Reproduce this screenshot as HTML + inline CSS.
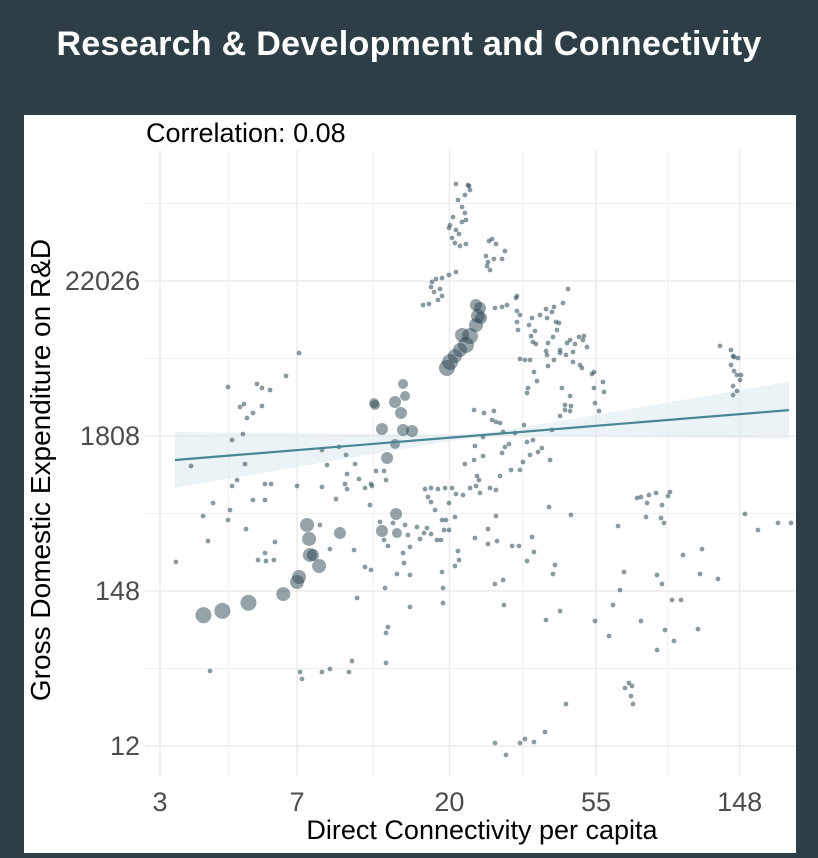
<!DOCTYPE html>
<html><head><meta charset="utf-8"><style>
html,body{margin:0;padding:0;background:#2d3e47;width:818px;height:858px;overflow:hidden}
#title{position:absolute;left:0;top:25px;width:818px;text-align:center;color:#fff;font:bold 34px "Liberation Sans",sans-serif;letter-spacing:0.3px;z-index:2}
svg{position:absolute;left:0;top:0}
</style></head><body>
<div id="title">Research &amp; Development and Connectivity</div>
<svg id="chart" width="818" height="858"></svg>
<script>
const xTicks=[3,7,20,55,148];
const yTicks=[12,148,1808,22026];
const bigX=[1.30,1.43,1.61,1.85,1.945,1.959,2.014,2.028,2.034,2.055,2.097,2.241,2.531,2.628,2.634,2.566,2.621,2.531,2.738,2.676,2.662,2.690,2.676,2.621,2.483,2.476,2.979,3.0,3.034,3.069,3.110,3.138,3.179,3.193,3.207,3.179,3.214,3.083];
const bigY=[4.61,4.68,4.81,4.95,5.145,5.226,6.065,5.839,5.581,5.581,5.403,5.935,5.968,6.242,5.935,7.145,7.371,7.613,7.581,7.597,7.871,8.145,8.339,8.048,8.0,8.03,8.597,8.694,8.790,8.887,8.968,9.113,9.290,9.435,9.565,9.613,9.403,9.129];
const bigSize=[8,8,8,7,7,7,7,7,7,6,7,6,6,6,5,6,5,6,6,6,6,5,5,6,5,5,8,8,7,7,8,8,7,7,6,6,6,7];
const smallX=[3.041,3.131,3.103,3.055,3.083,3.103,3.110,3.021,3.0,3.041,3.062,3.014,3.034,3.069,3.110,3.124,3.138,2.993,3.083,
3.269,3.290,3.317,3.248,3.262,3.303,3.359,3.379,3.255,3.276,
2.876,2.903,2.945,2.993,3.041,2.869,2.890,2.931,2.945,2.814,2.855,2.917,
3.310,3.359,3.393,3.455,3.462,3.462,3.483,3.462,3.469,3.545,3.566,3.621,3.662,3.717,3.779,3.814,3.731,3.703,3.669,3.738,3.752,3.559,3.586,3.593,3.662,3.669,3.717,3.759,3.807,3.828,3.862,3.890,3.917,3.924,3.945,3.848,3.800,3.848,3.897,3.910,3.979,3.993,3.676,3.579,3.600,3.538,3.531,3.772,3.828,3.993,4.055,4.062,4.0,4.028,3.793,3.552,3.572,3.517,3.483,3.676,3.710,3.759,
3.166,3.234,3.303,3.290,3.317,3.345,3.366,3.510,3.228,3.172,3.448,3.531,3.703,3.759,3.793,3.834,3.828,
4.862,4.938,4.952,4.959,4.986,4.938,4.959,4.979,5.007,5.0,4.952,4.952,4.979,
3.103,3.166,3.228,3.359,3.379,3.407,3.421,3.345,3.276,3.317,3.503,3.483,3.552,3.607,3.572,3.634,3.690,
1.110,1.214,1.331,1.469,1.483,1.586,1.497,1.572,1.600,1.641,1.703,1.759,1.869,1.959,1.669,1.552,1.469,1.703,1.579,1.676,1.724,1.593,1.724,1.724,1.766,1.497,1.531,1.366,1.297,1.641,1.731,1.793,1.786,1.945,2.117,2.234,2.152,2.283,2.345,2.276,2.414,2.455,
2.117,2.214,2.290,2.290,2.372,2.490,2.545,2.559,2.462,2.448,2.517,2.545,2.607,2.572,2.338,2.414,2.455,2.552,2.634,2.676,2.683,2.724,2.724,2.690,2.710,2.772,2.793,2.821,2.841,2.869,2.910,2.938,2.959,2.945,2.897,2.869,2.848,2.828,2.869,2.917,2.966,2.993,2.972,2.993,3.014,3.041,3.138,3.179,3.207,3.200,3.186,2.945,2.952,2.952,3.055,3.062,3.034,2.724,2.572,2.559,2.359,2.172,2.103,
3.034,3.090,3.172,3.262,3.262,3.317,3.310,3.366,3.324,3.372,3.428,3.476,3.531,3.579,3.566,3.683,3.662,3.710,3.724,3.759,3.834,4.159,4.0,4.097,4.124,4.172,4.200,4.317,4.428,4.462,4.531,4.428,4.483,4.545,4.593,4.710,4.724,4.738,4.290,4.317,4.372,4.359,4.421,4.517,4.462,4.503,4.352,4.455,4.476,5.034,5.124,5.262,5.352,4.607,4.848,4.234,4.255,4.207,4.248,4.262,3.800,3.655,3.517,3.579,3.483,3.310,3.386,
1.345,1.966,1.979,2.117,2.172,2.324,2.559,2.303];
const smallY=[11.565,11.532,11.387,11.306,11.194,11.097,10.984,11.032,10.903,10.823,10.758,10.694,10.613,10.565,10.597,11.548,11.468,10.855,10.952,
10.645,10.677,10.597,10.403,10.306,10.355,10.355,10.484,10.242,10.177,
9.984,10.032,10.048,10.097,10.145,9.903,9.823,9.871,9.758,9.613,9.629,9.694,
9.565,9.581,9.613,9.726,9.758,9.516,9.452,9.339,9.210,9.290,9.403,9.452,9.548,9.581,9.645,9.871,9.339,9.500,9.403,9.210,9.323,9.113,9.194,8.984,8.871,8.806,8.726,8.839,9.0,9.048,8.984,9.097,9.048,9.113,8.935,8.855,8.806,8.694,8.645,8.597,8.500,8.532,8.629,8.532,8.387,8.274,8.194,8.274,8.145,8.274,8.371,8.210,8.032,7.903,8.0,8.726,9.016,8.726,8.742,9.0,9.097,8.887,
7.919,7.871,7.903,7.758,7.726,7.710,7.565,7.677,7.484,7.339,7.548,7.403,7.597,7.823,7.919,7.984,7.903,
8.952,8.887,8.790,8.774,8.758,8.645,8.548,8.484,8.484,8.403,8.306,8.161,8.226,
7.048,7.113,7.177,7.226,7.323,7.371,6.952,6.855,6.661,6.629,7.081,6.952,7.194,7.242,7.435,7.306,7.113,
5.468,7.016,5.806,6.145,6.306,7.048,7.435,7.532,7.790,7.871,8.274,8.242,8.468,8.839,8.339,7.968,8.290,7.984,8.016,5.500,5.613,6.0,6.726,6.468,6.726,6.694,6.790,6.419,6.210,6.468,5.484,5.790,5.500,6.694,7.274,7.323,7.032,7.194,7.048,6.726,6.661,6.726,
6.677,6.484,6.645,6.887,6.806,6.935,6.935,6.790,6.694,6.387,6.113,5.823,6.097,5.726,5.661,5.387,5.339,5.048,5.274,5.613,5.452,5.258,5.710,6.065,5.903,6.032,5.839,5.935,6.016,5.919,5.823,5.823,5.984,6.145,6.306,6.435,6.516,6.645,6.661,6.645,6.661,6.419,6.145,5.984,6.661,6.565,6.661,6.694,6.581,6.790,6.855,5.306,5.048,4.806,5.645,5.500,5.403,4.742,4.419,4.323,4.887,5.677,6.065,
6.194,6.548,5.855,6.0,5.758,6.210,5.113,5.177,5.806,4.774,5.726,5.726,5.484,5.629,5.871,6.355,4.532,5.274,5.419,4.677,6.226,6.048,4.516,4.274,4.774,5.016,5.306,4.516,5.258,5.113,4.855,4.048,4.371,4.194,4.855,4.387,5.274,5.677,6.500,6.516,6.548,6.419,6.581,6.597,6.387,6.532,6.194,6.177,6.097,6.242,5.984,6.097,6.097,5.581,5.194,3.516,3.468,3.435,3.306,3.177,3.177,2.726,2.613,2.565,2.548,2.548,2.355,
3.710,3.694,3.581,3.694,3.742,3.871,3.839,3.694];
const fitIntercept=6.903, fitSlope=0.19;
const fitRange=[1.103,5.338];
const seBase=0.036, seCurv=0.046, seCenter=3.2;

(function(){
const NS='http://www.w3.org/2000/svg';
const svg=document.getElementById('chart');
const X0=15, XK=145, Y0=901, YK=62;
const sx=v=>X0+Math.log(v)*XK;
const lx=l=>X0+l*XK, ly=l=>Y0-l*YK;
function mk(t,a,p){const e=document.createElementNS(NS,t);for(const k in a)e.setAttribute(k,a[k]);(p||svg).appendChild(e);return e;}

const panel=mk('rect',{x:24,y:115,width:772,height:738,fill:'#fff'});


const L=145,R=796,T=150,B=776;
for(let i=0;i<xTicks.length-1;i++){const m=(Math.log(i==0?Math.E:xTicks[i])+Math.log(xTicks[i+1]))/2;const g=mk('line',{x1:lx(m),x2:lx(m),y1:T,y2:B,stroke:'#f0f0f0','stroke-width':1});

}
for(let i=0;i<yTicks.length;i++){const m=2.5+i*2.5+1.25;const g=mk('line',{x1:L,x2:R,y1:ly(m),y2:ly(m),stroke:'#f0f0f0','stroke-width':1});

}
xTicks.forEach((v,i)=>{const x=sx(i==0?Math.E:v);const g=mk('line',{x1:x,x2:x,y1:T,y2:B,stroke:'#ebebeb','stroke-width':1.5});


const t=mk('text',{x:x,y:811,'text-anchor':'middle','font-family':'Liberation Sans, sans-serif','font-size':27,fill:'#4d4d4d'});t.textContent=v;

});
yTicks.forEach((v,i)=>{const y=ly(2.5+i*2.5);const g=mk('line',{x1:L,x2:R,y1:y,y2:y,stroke:'#ebebeb','stroke-width':1.5});


const t=mk('text',{x:140,y:y+9,'text-anchor':'end','font-family':'Liberation Sans, sans-serif','font-size':27,fill:'#4d4d4d'});t.textContent=v;

});
const bandTop=[],bandBot=[];
for(let k=0;k<=40;k++){const x=fitRange[0]+(fitRange[1]-fitRange[0])*k/40;const y=fitIntercept+fitSlope*x;const s=Math.sqrt(seBase*seBase+seCurv*(x-seCenter)*(x-seCenter));bandTop.push(lx(x)+','+ly(y+s));bandBot.unshift(lx(x)+','+ly(y-s));}
const band=mk('polygon',{points:bandTop.concat(bandBot).join(' '),fill:'#dbe9ee','fill-opacity':0.55});


const pts=mk('g',{});


for(let i=0;i<smallX.length;i++){const c=mk('circle',{cx:lx(smallX[i]),cy:ly(smallY[i]),r:2.4,fill:'#2b4652','fill-opacity':0.55},pts);

}
const bp=mk('g',{});


for(let i=0;i<bigX.length;i++){const c=mk('circle',{cx:lx(bigX[i]),cy:ly(bigY[i]),r:bigSize[i],fill:'#2b4652','fill-opacity':0.5},bp);

}
const fl=mk('line',{x1:lx(fitRange[0]),y1:ly(fitIntercept+fitSlope*fitRange[0]),x2:lx(fitRange[1]),y2:ly(fitIntercept+fitSlope*fitRange[1]),stroke:'#4a8792','stroke-width':2.2});


const ct=mk('text',{x:146,y:142,'font-family':'Liberation Sans, sans-serif','font-size':27,fill:'#000'});ct.textContent='Correlation: 0.08';


const xt=mk('text',{x:482,y:839,'text-anchor':'middle','font-family':'Liberation Sans, sans-serif','font-size':27,fill:'#000'});xt.textContent='Direct Connectivity per capita';


const yt=mk('text',{x:0,y:0,'text-anchor':'middle','font-family':'Liberation Sans, sans-serif','font-size':28,fill:'#000',transform:'translate(50,470) rotate(-90)'});yt.textContent='Gross Domestic Expenditure on R&D';


})();
</script>
</body></html>
